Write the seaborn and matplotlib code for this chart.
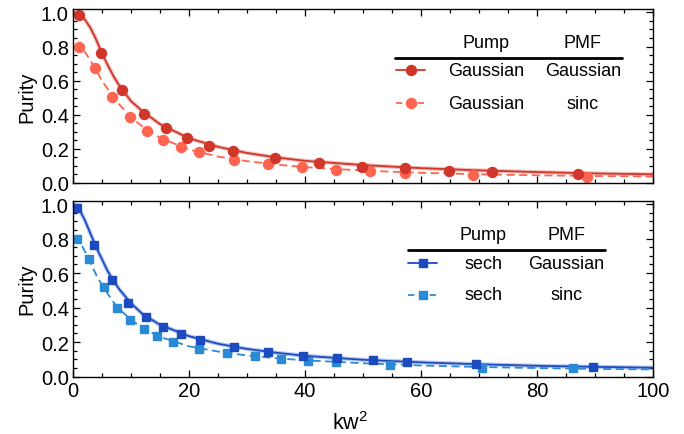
import numpy as np
import pandas as pd
import matplotlib
matplotlib.use("Agg")
import matplotlib.pyplot as plt
from matplotlib.lines import Line2D
from matplotlib.ticker import MultipleLocator
import seaborn as sns

# ---------------- data ----------------
# Top panel: Gaussian pump
gg_x = [1.0, 4.9, 8.5, 12.3, 16.0, 19.7, 23.5, 27.5, 34.9, 42.4, 49.8, 57.3, 64.8, 72.2, 87.1]
gg_y = [0.985, 0.76, 0.543, 0.406, 0.32, 0.263, 0.218, 0.188, 0.145, 0.116, 0.096, 0.086, 0.072, 0.063, 0.053]
gs_x = [1.0, 3.8, 6.8, 9.8, 12.7, 15.6, 18.6, 21.7, 27.7, 33.6, 39.5, 45.4, 51.2, 57.2, 69.0, 88.7]
gs_y = [0.80, 0.676, 0.506, 0.386, 0.306, 0.251, 0.212, 0.18, 0.137, 0.114, 0.094, 0.078, 0.069, 0.06, 0.047, 0.036]

curve_x = [0, 1, 2, 3, 4, 5, 6, 7, 8, 10, 12, 15, 20, 25, 30, 35, 40, 50, 60, 70, 80, 90, 100]
gg_curve = [1.0, 0.99, 0.96, 0.91, 0.84, 0.76, 0.69, 0.625, 0.57, 0.48, 0.42, 0.345, 0.262, 0.212, 0.176, 0.15, 0.13, 0.105, 0.087, 0.074, 0.064, 0.056, 0.051]
gs_curve = [0.80, 0.80, 0.77, 0.72, 0.66, 0.60, 0.55, 0.50, 0.46, 0.385, 0.33, 0.265, 0.196, 0.155, 0.128, 0.108, 0.093, 0.073, 0.06, 0.051, 0.045, 0.041, 0.038]

# Bottom panel: sech pump
sg_x = [0.7, 3.7, 6.7, 9.5, 12.6, 15.6, 18.6, 21.9, 27.7, 33.7, 39.6, 45.6, 51.7, 57.6, 69.5, 89.6]
sg_y = [0.98, 0.765, 0.56, 0.425, 0.345, 0.287, 0.246, 0.21, 0.17, 0.142, 0.117, 0.105, 0.094, 0.084, 0.072, 0.056]
ss_x = [0.7, 2.8, 5.3, 7.6, 9.9, 12.3, 14.5, 17.2, 21.8, 26.6, 31.3, 35.9, 40.6, 45.3, 54.7, 70.5, 86.2]
ss_y = [0.80, 0.68, 0.52, 0.40, 0.328, 0.275, 0.234, 0.203, 0.162, 0.135, 0.117, 0.1, 0.09, 0.083, 0.066, 0.052, 0.047]

sg_curve = [1.0, 0.975, 0.91, 0.83, 0.75, 0.68, 0.61, 0.555, 0.505, 0.425, 0.362, 0.3, 0.234, 0.19, 0.16, 0.138, 0.12, 0.097, 0.082, 0.071, 0.062, 0.056, 0.051]
ss_curve = [0.80, 0.79, 0.73, 0.66, 0.59, 0.53, 0.48, 0.43, 0.39, 0.33, 0.28, 0.23, 0.175, 0.145, 0.122, 0.106, 0.094, 0.077, 0.064, 0.055, 0.049, 0.044, 0.041]

x_ticks = [0, 20, 40, 60, 80, 100]
y_ticks = [0.0, 0.2, 0.4, 0.6, 0.8, 1.0]
legend_header = ["Pump", "PMF"]
top_rows = [["Gaussian", "Gaussian"], ["Gaussian", "sinc"]]
bot_rows = [["sech", "Gaussian"], ["sech", "sinc"]]

# ---------------- style ----------------
sns.set_style("ticks")
plt.rcParams["font.family"] = ["Liberation Sans", "DejaVu Sans"]
plt.rcParams["mathtext.fontset"] = "custom"
plt.rcParams["mathtext.rm"] = "Liberation Sans"
plt.rcParams["mathtext.it"] = "Liberation Sans"
for key in ["text.color", "axes.labelcolor", "xtick.color", "ytick.color", "axes.edgecolor"]:
    plt.rcParams[key] = "black"

c_red_dark = "#D0362A"
c_red_light = "#FF6450"
c_blue_dark = "#1C4BC0"
c_blue_light = "#2A8AD6"

fig = plt.figure(figsize=(6.84, 4.35), dpi=100)
ax1 = fig.add_axes([73/684, 1-184/435, 580/684, 174/435])
ax2 = fig.add_axes([73/684, 1-377.5/435, 580/684, 175.8/435])


def style_axis(ax, show_xlabels):
    ax.set_xlim(0, 100)
    ax.set_ylim(0, 1.02)
    ax.set_xticks(x_ticks)
    ax.set_yticks(y_ticks)
    ax.set_yticklabels([f"{v:.1f}" for v in y_ticks])
    ax.xaxis.set_minor_locator(MultipleLocator(5))
    ax.yaxis.set_minor_locator(MultipleLocator(0.05))
    ax.tick_params(which="both", direction="in", top=True, right=True,
                   colors="black", labelcolor="black", width=0.9)
    ax.tick_params(which="major", length=5, labelsize=14.5, pad=3)
    ax.tick_params(which="minor", length=3)
    if not show_xlabels:
        ax.tick_params(labelbottom=False)
    for s in ax.spines.values():
        s.set_linewidth(1.0)
        s.set_color("black")
    ax.set_xlabel("")
    ax.set_ylabel("Purity", fontsize=14.5, labelpad=3, color="black")


def draw_panel(ax, cx, c1, c2, x1, y1, x2, y2, col1, col2, marker, ms):
    sns.lineplot(x=cx, y=c1, ax=ax, color=col1, alpha=0.3, linewidth=3.0)
    sns.lineplot(x=cx, y=c1, ax=ax, color=col1, linewidth=1.3)
    sns.lineplot(x=cx, y=c2, ax=ax, color=col2, linewidth=1.3,
                 linestyle=(0, (4.5, 2.5)))
    ax.plot(x2, y2, linestyle="none", marker=marker, ms=ms, color=col2, mec=col2)
    ax.plot(x1, y1, linestyle="none", marker=marker, ms=ms, color=col1, mec=col1)


draw_panel(ax1, curve_x, gg_curve, gs_curve, gg_x, gg_y, gs_x, gs_y,
           c_red_dark, c_red_light, "o", 7.2)
draw_panel(ax2, curve_x, sg_curve, ss_curve, sg_x, sg_y, ss_x, ss_y,
           c_blue_dark, c_blue_light, "s", 5.8)

style_axis(ax1, False)
style_axis(ax2, True)
ax2.set_xlabel(r"kw$^{2}$", fontsize=15.5, color="black")
ax2.xaxis.set_label_coords(0.478, -0.195)


def table_legend(ax, rows, cols, marker, ms, y_head, y_line, y_rows,
                 x_line, x_sample, x_cols):
    tr = ax.transAxes
    for txt, xc in zip(legend_header, x_cols):
        ax.text(xc, y_head, txt, transform=tr, ha="center", va="center", fontsize=13)
    ax.add_line(Line2D(x_line, [y_line, y_line], transform=tr, color="black", lw=2.0))
    styles = ["-", (0, (3.5, 2.5))]
    for row, yr, col, ls in zip(rows, y_rows, cols, styles):
        ax.add_line(Line2D(x_sample, [yr, yr], transform=tr, color=col, lw=1.3, linestyle=ls))
        ax.add_line(Line2D([(x_sample[0] + x_sample[1]) / 2], [yr], transform=tr,
                           marker=marker, ms=ms, color=col, linestyle="none"))
        for txt, xc in zip(row, x_cols):
            ax.text(xc, yr, txt, transform=tr, ha="center", va="center", fontsize=13)


table_legend(ax1, top_rows, [c_red_dark, c_red_light], "o", 7.2,
             0.81, 0.718, [0.648, 0.458], [0.555, 0.947], [0.557, 0.607], [0.712, 0.879])
table_legend(ax2, bot_rows, [c_blue_dark, c_blue_light], "s", 5.8,
             0.806, 0.721, [0.645, 0.465], [0.577, 0.917], [0.578, 0.628], [0.707, 0.851])

fig.savefig("out.png", dpi=100)
